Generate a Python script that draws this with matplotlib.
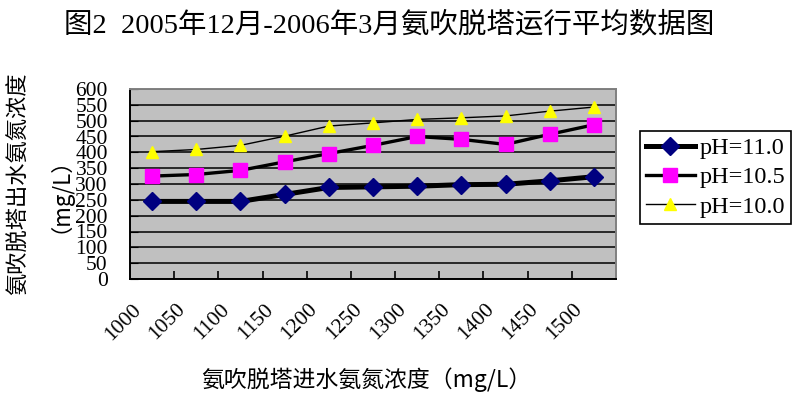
import numpy as np
import matplotlib
matplotlib.use("Agg")
import matplotlib.pyplot as plt
import matplotlib.transforms as mtransforms

# values
inlet = ["1000", "1050", "1100", "1150", "1200", "1250",
         "1300", "1350", "1400", "1450", "1500"]
ph_110 = [245, 245, 245, 267, 289, 291, 293, 298, 299, 310, 323]
ph_105 = [325, 330, 343, 370, 396, 422, 450, 441, 425, 457, 487]
ph_100 = [402, 409, 422, 451, 483, 493, 504, 509, 515, 530, 543]
y_ticks = list(range(0, 601, 50))

serif_cjk = ["Liberation Serif", "Noto Sans CJK SC"]
cjk = ["Noto Sans CJK SC", "DejaVu Sans"]


def main():
    fig = plt.figure(figsize=(7.95, 3.97), dpi=100)
    ax = fig.add_axes([130 / 795, 1 - 279 / 397, 486 / 795, 190 / 397])
    ax.set_facecolor("#c0c0c0")

    x = np.arange(len(inlet))
    ax.plot(x, ph_110, color="black", lw=3.6, marker="D", ms=9,
            mfc="#000080", mec="#000080", label="pH=11.0", zorder=3)
    ax.plot(x, ph_105, color="black", lw=2.4, marker="s", ms=9.5,
            mfc="#ff00ff", mec="#ff00ff", label="pH=10.5", zorder=4)
    ax.plot(x, ph_100, color="black", lw=1.0, marker="^", ms=8.5,
            mfc="#ffff00", mec="#ffff00", label="pH=10.0", zorder=5)

    ax.set_xlim(-0.5, len(inlet) - 0.5)
    ax.set_ylim(0, 600)
    ax.set_yticks(y_ticks)
    ax.set_yticklabels([str(v) for v in y_ticks], family="Liberation Serif", fontsize=15.5)
    ax.yaxis.grid(True, color="black", lw=1.1)
    ax.tick_params(axis="y", direction="in", length=6, pad=16, color="black")

    ax.set_xticks(x)
    ax.set_xticklabels(inlet, family="Liberation Serif", fontsize=15.5,
                       rotation=45, ha="right", va="center", rotation_mode="anchor")
    ax.tick_params(axis="x", which="major", length=0, pad=20)
    ax.set_xticks(x[:-1] + 0.5, minor=True)
    ax.tick_params(axis="x", which="minor", direction="in", length=6, width=1.2, color="black")
    shift = mtransforms.ScaledTranslation(-14 / 100, 0, fig.dpi_scale_trans)
    for lab in ax.get_xticklabels():
        lab.set_transform(lab.get_transform() + shift)

    for side in ("left", "bottom"):
        ax.spines[side].set_color("black")
        ax.spines[side].set_linewidth(1.4)
    for side in ("top", "right"):
        ax.spines[side].set_color("#808080")
        ax.spines[side].set_linewidth(1.4)

    ax.set_xlabel("氨吹脱塔进水氨氮浓度（mg/L）", family=cjk, fontsize=16.5, va="top")
    ax.xaxis.set_label_coords((366 - 130) / 486, -(367 - 279) / 190)
    ax.set_ylabel("氨吹脱塔出水氨氮浓度\n（mg/L）", family=cjk, fontsize=16, linespacing=1.3)
    ax.yaxis.set_label_coords((60 - 130) / 486, 0.5)

    fig.text(389 / 795, 1 - 25 / 397, "图2  2005年12月-2006年3月氨吹脱塔运行平均数据图",
             family=serif_cjk, fontsize=20.5, ha="center", va="center")

    leg = fig.legend(loc="upper left", bbox_to_anchor=(640 / 795, 1 - 131 / 397),
                     prop={"family": "Liberation Serif", "size": 17.5},
                     frameon=True, fancybox=False, borderaxespad=0, borderpad=0.25,
                     handlelength=2.0, handletextpad=0.2, labelspacing=0.3)
    leg.get_frame().set_edgecolor("black")
    leg.get_frame().set_linewidth(1.2)
    leg.get_frame().set_alpha(1)

    fig.savefig("out.png", dpi=100)


if __name__ == "__main__":
    main()
